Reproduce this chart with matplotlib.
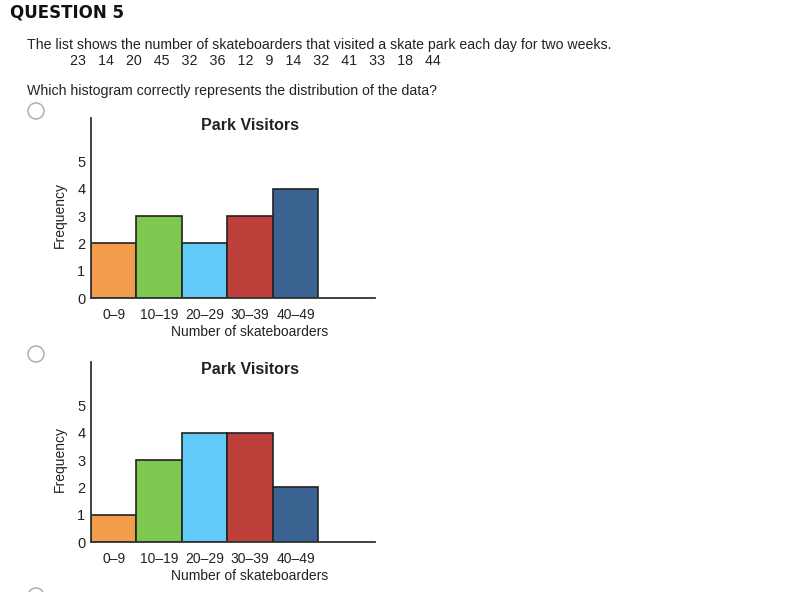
import numpy as np
import matplotlib.pyplot as plt
from matplotlib.patches import Ellipse

plt.rcParams['font.family'] = ['Liberation Sans', 'DejaVu Sans']

W, H = 800, 592

visitors = [23, 14, 20, 45, 32, 36, 12, 9, 14, 32, 41, 33, 18, 44]
bin_labels = ['0–9', '10–19', '20–29', '30–39', '40–49']
bin_starts = [0, 10, 20, 30, 40]
freq_a = [2, 3, 2, 3, 4]
freq_b = [1, 3, 4, 4, 2]
colors = ['#F29D4B', '#7EC850', '#62CAF8', '#BE403B', '#3B6391']

fig = plt.figure(figsize=(W / 100, H / 100), dpi=100)


def fx(px):
    return px / W


def fy(py):
    return 1 - py / H


# header text
fig.text(fx(10), fy(12), 'QUESTION 5', fontsize=12, fontweight='bold',
         family=['DejaVu Sans'], va='center', ha='left', color='#111111')
fig.text(fx(27), fy(45),
         'The list shows the number of skateboarders that visited a skate park each day for two weeks.',
         fontsize=10.2, va='center', ha='left', color='#222222')
fig.text(fx(70), fy(61), '   '.join(str(v) for v in visitors),
         fontsize=10.3, va='center', ha='left', color='#222222')
fig.text(fx(27), fy(91), 'Which histogram correctly represents the distribution of the data?',
         fontsize=10.2, va='center', ha='left', color='#222222')

# radio buttons
for cy in [111, 354, 596]:
    fig.patches.append(Ellipse((fx(36), fy(cy)), 16 / W, 16 / H,
                               transform=fig.transFigure, facecolor='white',
                               edgecolor='#a8a8a8', lw=1))


def draw_hist(top_px, freqs):
    bottom_px = top_px + 180
    ax = fig.add_axes([fx(91), fy(bottom_px), 284 / W, 180 / H])
    ax.bar(bin_starts, freqs, width=10, align='edge', color=colors,
           edgecolor='#222222', linewidth=1.2)
    ax.set_xlim(0, 62.5)
    ax.set_ylim(0, 6.6)
    ax.set_xticks([b + 5 for b in bin_starts])
    ax.set_xticklabels(bin_labels, fontsize=10, color='#222222')
    ax.set_yticks(range(6))
    ax.set_yticklabels([str(i) for i in range(6)], fontsize=10.5, color='#222222')
    ax.tick_params(axis='x', length=0, pad=7)
    ax.tick_params(axis='y', length=0, pad=4)
    for s in ['top', 'right']:
        ax.spines[s].set_visible(False)
    for s in ['left', 'bottom']:
        ax.spines[s].set_color('#333333')
        ax.spines[s].set_linewidth(1.3)
    ax.text(159 / 284, -34 / 180, 'Number of skateboarders', transform=ax.transAxes,
            fontsize=10, color='#222222', ha='center', va='center')
    ax.text(-31 / 284, 83 / 180, 'Frequency', transform=ax.transAxes, rotation=90,
            fontsize=10, color='#222222', ha='center', va='center')
    ax.text(159 / 284, 173 / 180, 'Park Visitors', transform=ax.transAxes,
            fontsize=11.5, fontweight='bold', color='#222222', ha='center', va='center')
    return ax


draw_hist(118, freq_a)
draw_hist(362, freq_b)

fig.savefig('out.png', dpi=100, facecolor='white')
